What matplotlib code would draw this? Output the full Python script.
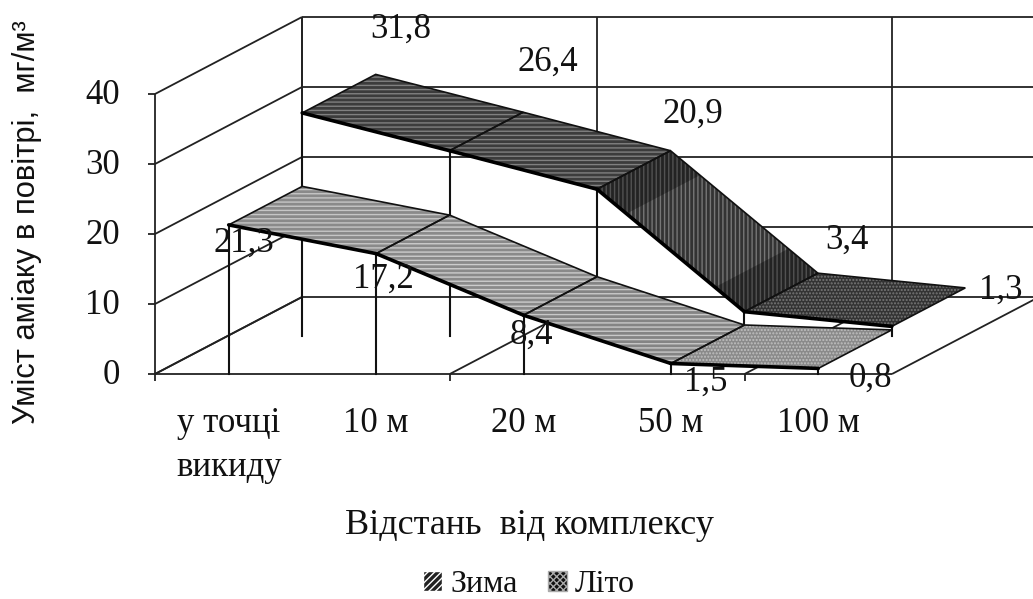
import matplotlib
matplotlib.use("Agg")
import matplotlib.pyplot as plt
from matplotlib.patches import Polygon, Patch

plt.rcParams['font.family'] = ['Liberation Serif', 'DejaVu Serif']
plt.rcParams['hatch.linewidth'] = 1.0

categories = ['у точці\nвикиду', '10 м', '20 м', '50 м', '100 м']
zyma = [21.3, 17.2, 8.4, 1.5, 0.8]
lito = [31.8, 26.4, 20.9, 3.4, 1.3]
y_ticks = [0, 10, 20, 30, 40]

# pixel layout of the fake 3d box
X0, Y0 = 155, 374
CAT_W = 147.4
PX_PER_UNIT = 7.0
DEPTH_X, DEPTH_Y = 147, 77
YMAX = 40
FS = 25
INK = '#111111'


def project(c, v, d):
    # c = category position, v = value, d = depth 0..1
    return (X0 + c * CAT_W + d * DEPTH_X, Y0 - v * PX_PER_UNIT - d * DEPTH_Y)


fig = plt.figure(figsize=(10.33, 5.99), dpi=100)
ax = fig.add_axes([0, 0, 1, 1])
ax.set_xlim(0, 1033)
ax.set_ylim(599, 0)
ax.axis('off')

n = len(categories)
grid = dict(color='#222222', lw=1.3, zorder=1, solid_capstyle='butt')


def line(p, q, **kw):
    ax.plot([p[0], q[0]], [p[1], q[1]], **kw)


# walls and floor
for t in y_ticks:
    line(project(0, t, 0), project(0, t, 1), **grid)
    line(project(0, t, 1), project(n, t, 1), **grid)
    line(project(0, t, 0), (X0 - 7, Y0 - t * PX_PER_UNIT), **grid)
line(project(0, 0, 0), project(0, YMAX, 0), **grid)
line(project(0, 0, 1), project(0, YMAX, 1), **grid)
for c in range(0, n + 1, 2):
    line(project(c, 0, 1), project(c, YMAX, 1), **grid)
    line(project(c, 0, 0), project(c, 0, 1), **grid)
for c in [0, 2, 4]:
    line(project(c, 0, 0), (X0 + c * CAT_W, Y0 + 7), **grid)
line(project(0, 0, 0), project(n, 0, 0), **grid)
line(project(n, 0, 0), project(n, 0, 1), **grid)


def ribbon(values, d0, d1, fills, zbase):
    for i, val in enumerate(values):
        line(project(i + 0.5, val, d0), project(i + 0.5, 0, d0),
             color=INK, lw=1.5, zorder=zbase)
    for i in range(len(values) - 1):
        a, b = values[i], values[i + 1]
        face, stripe, hatch = fills[i]
        pts = [project(i + 0.5, a, d0), project(i + 1.5, b, d0),
               project(i + 1.5, b, d1), project(i + 0.5, a, d1)]
        ax.add_patch(Polygon(pts, closed=True, facecolor=face, edgecolor=stripe,
                             hatch=hatch, lw=0, zorder=zbase + 1))
        # excel shades the steep part in bands, darker at both ends
        if abs(a - b) > 15:
            for f0, f1 in [(0, 0.2), (0.8, 1)]:
                band = [project(i + 0.5 + f0, a + (b - a) * f0, d0),
                        project(i + 0.5 + f1, a + (b - a) * f1, d0),
                        project(i + 0.5 + f1, a + (b - a) * f1, d1),
                        project(i + 0.5 + f0, a + (b - a) * f0, d1)]
                ax.add_patch(Polygon(band, closed=True, facecolor='black', alpha=0.3,
                                     lw=0, zorder=zbase + 1.5))
        ax.add_patch(Polygon(pts, closed=True, fill=False, edgecolor=INK,
                             lw=1.2, zorder=zbase + 2))
        line(pts[0], pts[1], color='black', lw=2.6, zorder=zbase + 3,
             solid_capstyle='round')


zyma_fills = [('#8a8a8a', '#c6c6c6', '----'),
              ('#8a8a8a', '#cccccc', '----'),
              ('#848484', '#c8c8c8', '----'),
              ('#8a8a8a', '#c0c0c0', '.....')]
lito_fills = [('#3c3c3c', '#808080', '----'),
              ('#3c3c3c', '#808080', '----'),
              ('#333333', '#767676', '||||'),
              ('#333333', '#777777', '.....')]
ribbon(lito, 0.5, 1.0, lito_fills, 3)
ribbon(zyma, 0.0, 0.5, zyma_fills, 8)

# value labels, offset from the middle of each ribbon
lito_off = [(62, -64), (61, -69), (59, -56), (66, -52), (72, -17)]
zyma_off = [(-22, 38), (-29, 45), (-29, 39), (-2, 38), (15, 29)]
for i, val in enumerate(lito):
    px, py = project(i + 0.5, val, 0.75)
    ax.text(px + lito_off[i][0], py + lito_off[i][1], f'{val}'.replace('.', ','),
            fontsize=FS, ha='center', va='center', color=INK, zorder=15)
for i, val in enumerate(zyma):
    px, py = project(i + 0.5, val, 0.25)
    ax.text(px + zyma_off[i][0], py + zyma_off[i][1], f'{val}'.replace('.', ','),
            fontsize=FS, ha='center', va='center', color=INK, zorder=15)

for t in y_ticks:
    ax.text(X0 - 35, Y0 + 1 - t * PX_PER_UNIT, str(t), fontsize=FS, ha='right',
            va='center', color=INK)

for i, name in enumerate(categories):
    px = X0 + (i + 0.5) * CAT_W
    if '\n' in name:
        ax.text(px, 423, name.split('\n')[0], fontsize=FS, ha='center', va='center', color=INK)
        ax.text(px, 468, name.split('\n')[1], fontsize=FS, ha='center', va='center', color=INK)
    else:
        ax.text(px, 423, name, fontsize=FS, ha='center', va='center', color=INK)

ax.text(529, 526, 'Відстань  від комплексу', fontsize=26, ha='center', va='center',
        color=INK)
ax.text(27, 222, 'Уміст аміаку в повітрі,  мг/м³', fontsize=22.2, rotation=90,
        ha='center', va='center', family='Liberation Sans', color=INK)

handles = [Patch(facecolor='#222222', edgecolor='white', hatch='/////', label='Зима'),
           Patch(facecolor='#111111', edgecolor='#aaaaaa', hatch='xxxxx', label='Літо')]
ax.legend(handles=handles, loc='center', bbox_to_anchor=(529 / 1033, 1 - 585 / 599),
          ncol=2, frameon=False, fontsize=23, handlelength=0.6, handleheight=0.6,
          handletextpad=0.25, columnspacing=0.95, labelcolor=INK, borderpad=0.1)

fig.savefig('out.png', dpi=100)
